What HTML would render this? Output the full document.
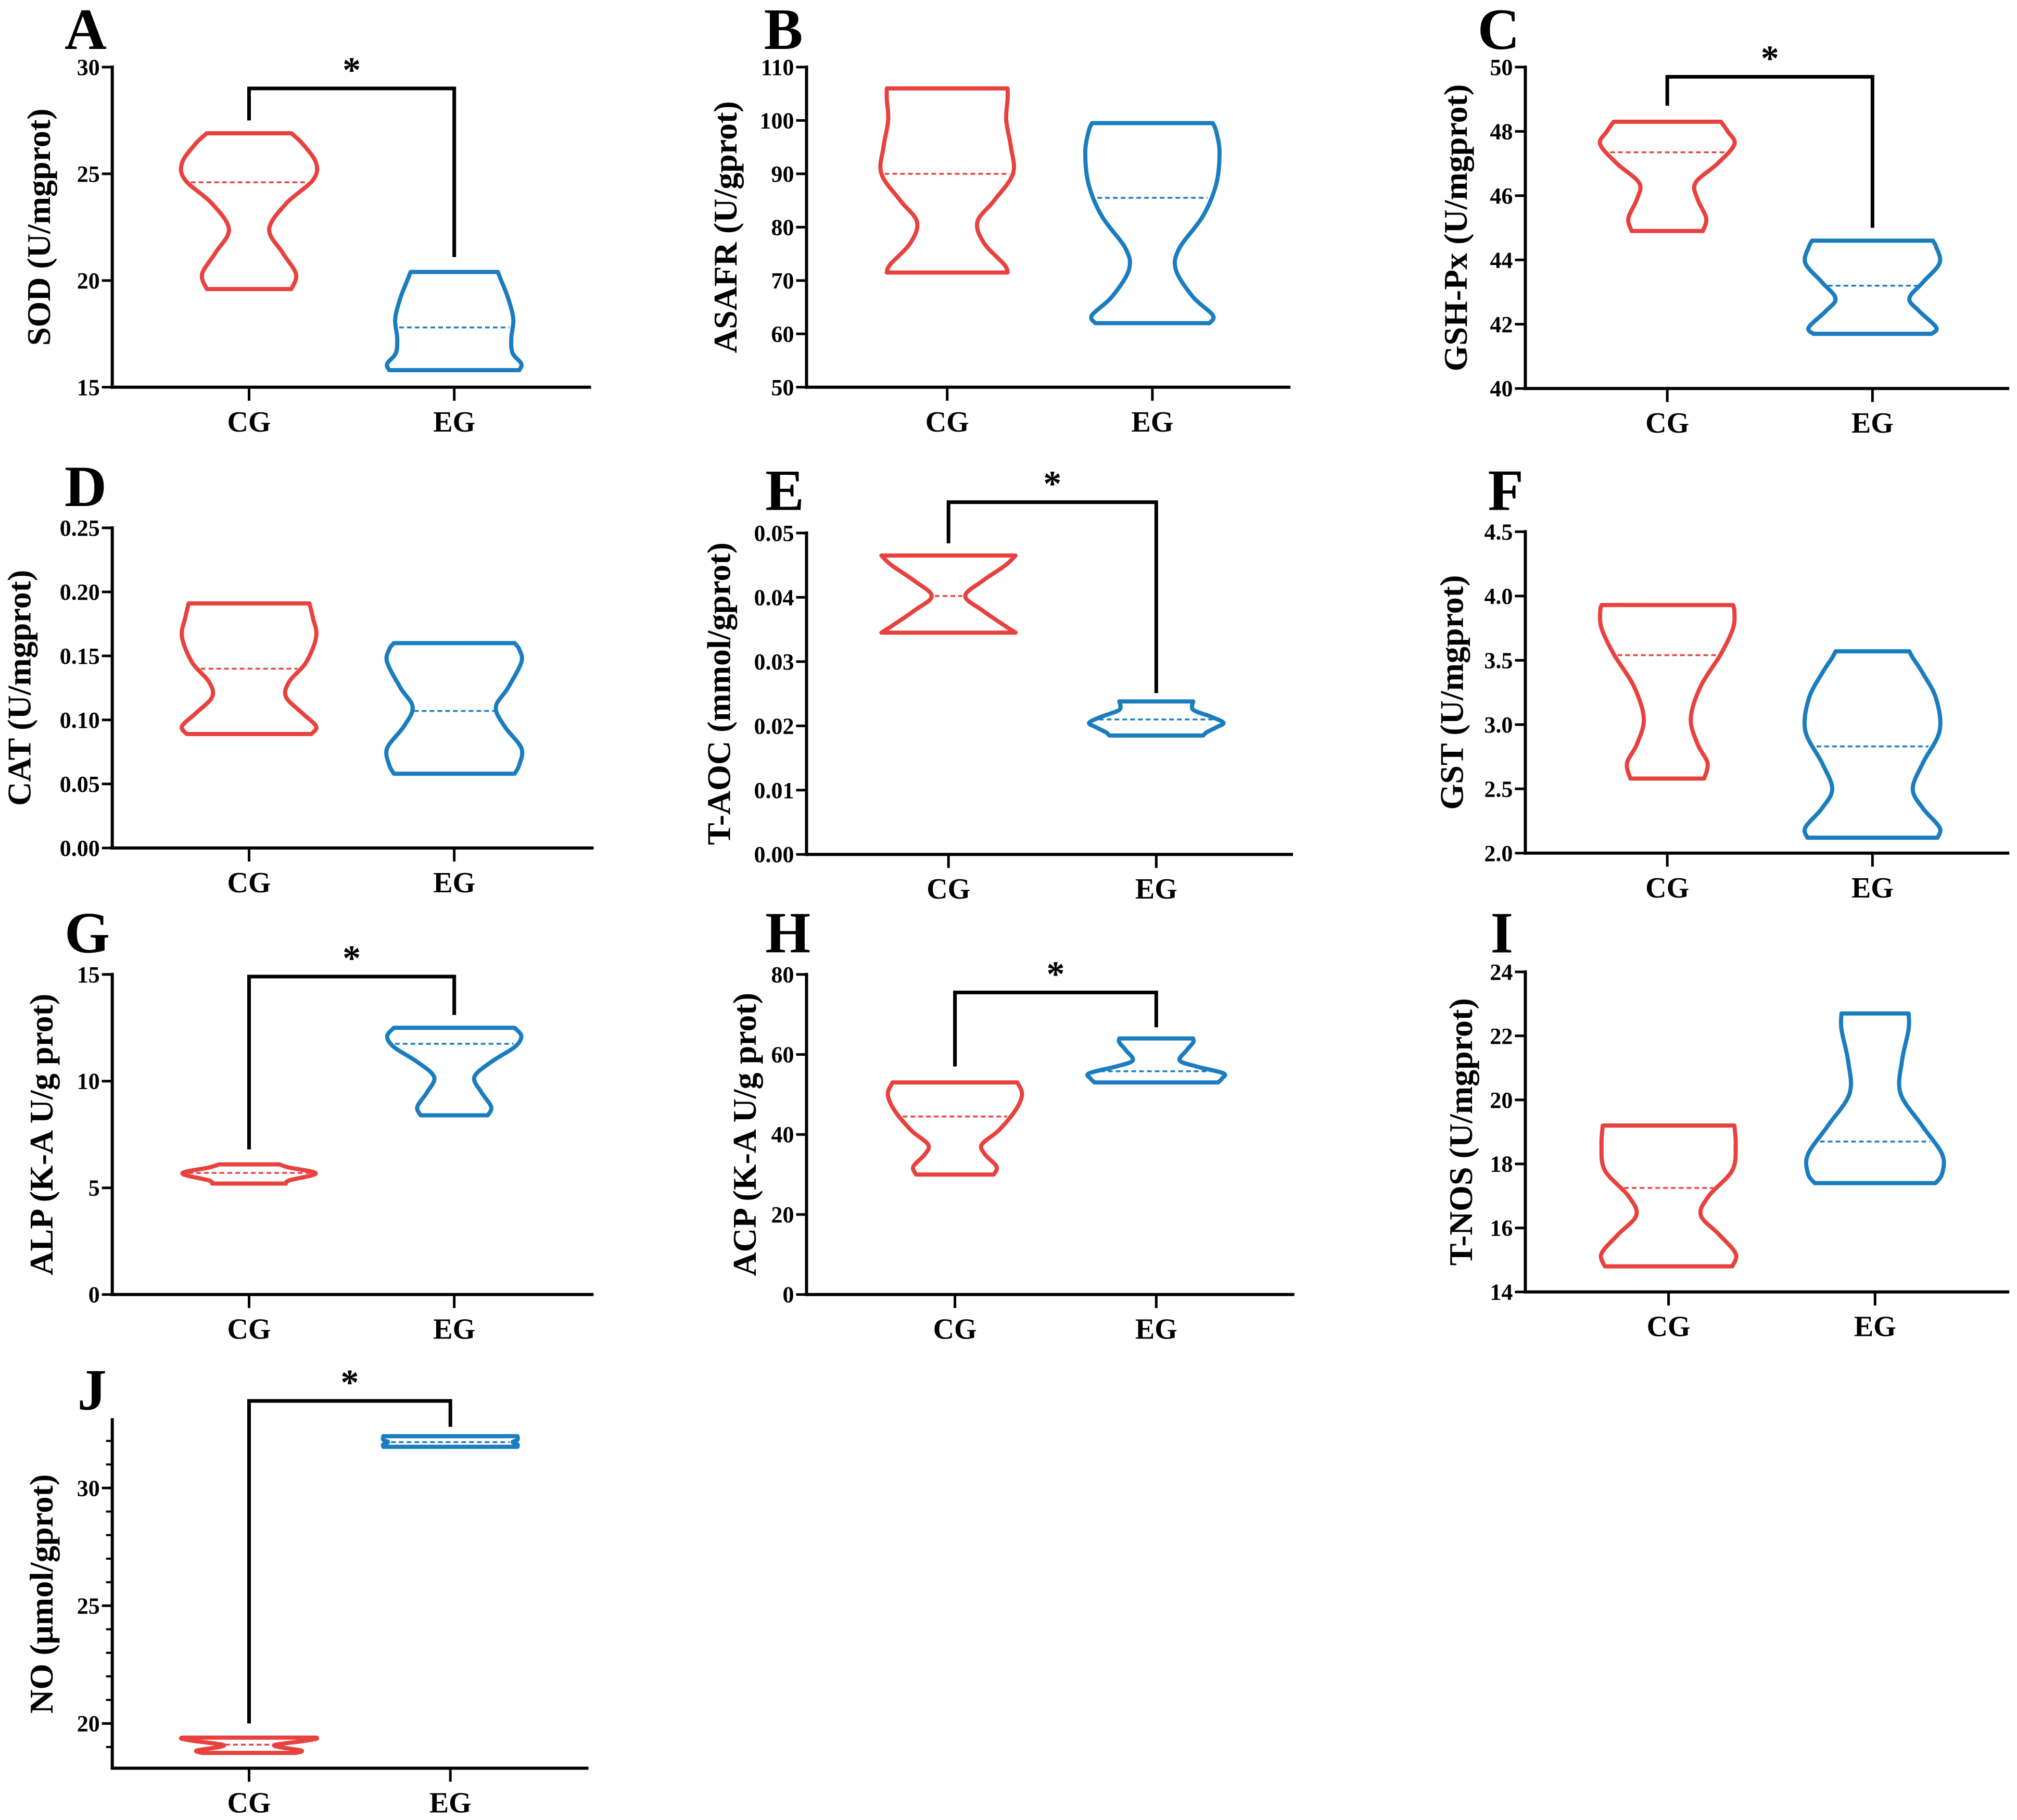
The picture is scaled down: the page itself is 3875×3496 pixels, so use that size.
<!DOCTYPE html>
<html><head><meta charset="utf-8">
<style>
html,body{margin:0;padding:0;background:#fff;}
svg{display:block;}
text{font-family:"Liberation Serif",serif;font-weight:bold;fill:#000;}
</style></head>
<body>
<svg id="fig" xmlns="http://www.w3.org/2000/svg" width="3875" height="3496" viewBox="0 0 3875 3496"></svg>
<script>
// ---- data (value, relative half-width) for each violin ----
const groups = ["CG", "EG"];
const A_CG = [[19.6,0.63],[20.3,0.7],[21.3,0.5],[22.4,0.3],[23.6,0.55],[24.7,0.95],[25.5,1.0],[26.4,0.8],[26.9,0.63]];
const A_EG = [[15.8,0.97],[16.1,1.0],[16.6,0.87],[17.3,0.85],[18.2,0.88],[19.2,0.8],[20.0,0.7],[20.4,0.65]];
const B_CG = [[71.5,0.9],[73,0.85],[77,0.55],[81,0.45],[85,0.7],[90,0.98],[95,0.95],[100,0.88],[104,0.9],[106,0.9]];
const B_EG = [[62,0.85],[63.5,0.9],[67,0.6],[72,0.35],[76,0.4],[82,0.75],[88,0.95],[94,1.0],[98,0.95],[99.5,0.9]];
const C_CG = [[44.9,0.53],[45.3,0.58],[45.9,0.45],[46.4,0.42],[47.0,0.75],[47.6,1.0],[48.0,0.9],[48.3,0.8]];
const C_EG = [[41.7,0.88],[41.9,0.95],[42.4,0.7],[42.8,0.55],[43.3,0.75],[43.9,1.0],[44.4,0.95],[44.6,0.9]];
const D_CG = [[0.089,0.93],[0.095,1.0],[0.105,0.8],[0.118,0.55],[0.13,0.6],[0.145,0.85],[0.165,1.0],[0.18,0.95],[0.191,0.9]];
const D_EG = [[0.058,0.9],[0.065,0.97],[0.078,1.0],[0.095,0.75],[0.11,0.62],[0.125,0.8],[0.145,1.0],[0.155,0.97],[0.16,0.9]];
const E_CG = [[0.0345,1.0],[0.0355,0.85],[0.038,0.5],[0.0402,0.25],[0.0425,0.5],[0.045,0.85],[0.0465,1.0]];
const E_EG = [[0.0185,0.7],[0.019,0.75],[0.0198,0.9],[0.0205,1.0],[0.0215,0.8],[0.0225,0.55],[0.0238,0.55]];
const F_CG = [[2.58,0.55],[2.7,0.6],[2.85,0.45],[3.05,0.35],[3.3,0.5],[3.55,0.8],[3.75,0.98],[3.88,1.0],[3.93,0.98]];
const F_EG = [[2.12,0.97],[2.2,1.0],[2.35,0.75],[2.5,0.6],[2.7,0.75],[2.95,1.0],[3.2,0.95],[3.4,0.75],[3.52,0.6],[3.57,0.55]];
const G_CG = [[5.2,0.55],[5.35,0.6],[5.6,0.95],[5.75,0.95],[5.95,0.6],[6.1,0.45]];
const G_EG = [[8.4,0.5],[8.8,0.55],[9.5,0.4],[10.2,0.3],[10.9,0.55],[11.6,0.9],[12.1,1.0],[12.5,0.9]];
const H_CG = [[30,0.58],[32,0.62],[35,0.45],[37.5,0.4],[41,0.65],[46,0.9],[50,1.0],[53,0.93]];
const H_EG = [[53,0.92],[54,0.98],[55.3,1.0],[57,0.6],[58.5,0.35],[61,0.45],[63,0.55],[64,0.55]];
const I_CG = [[14.8,0.95],[15.2,1.0],[15.8,0.75],[16.4,0.48],[17.0,0.6],[17.8,0.95],[18.6,1.0],[19.2,0.98]];
const I_EG = [[17.4,0.9],[17.7,1.0],[18.3,1.0],[19.2,0.7],[20.2,0.38],[21.2,0.4],[22.2,0.5],[22.7,0.5]];
const J_CG = [[18.75,0.7],[18.85,0.78],[19.0,0.45],[19.1,0.4],[19.25,0.8],[19.35,1.0],[19.4,1.0]];
const J_EG = [[31.75,1.0],[31.85,1.0],[31.95,0.93],[32.05,1.0],[32.2,1.0]];
const medians = {A:[24.6,17.8],B:[90,85.5],C:[47.35,43.2],D:[0.14,0.107],E:[0.0402,0.021],F:[3.54,2.83],G:[5.7,11.75],H:[44.5,55.8],I:[17.25,18.7],J:[19.1,31.95]};
// significance brackets: [top value, CG leg end, EG leg end]
const brackets = {A:[29,27.5,21.1],C:[49.7,48.8,45.0],E:[0.0548,0.0484,0.0251],G:[14.9,6.8,13.1],H:[75.5,57,66.8],J:[33.7,20.0,32.6]};
const tickA = [15,20,25,30];
const tickB = [50,60,70,80,90,100,110];
const tickC = [40,42,44,46,48,50];
const tickD = ["0.00","0.05","0.10","0.15","0.20","0.25"];
const tickE = ["0.00","0.01","0.02","0.03","0.04","0.05"];
const tickF = ["2.0","2.5","3.0","3.5","4.0","4.5"];
const tickG = [0,5,10,15];
const tickH = [0,20,40,60,80];
const tickI = [14,16,18,20,22,24];
const tickJ = [20,25,30];
const minorJ = [19,21,22,23,24,26,27,28,29,31,32];

// ---- layout (in reduced-scale px, scaled by S) ----
const S = 3875/1563;
const panels = [
 {id:"A",L:87,R:458,T:52,B:300,cg:193,eg:352,min:15,max:30,ticks:tickA,lab:"SOD (U/mgprot)",lx:30,letter:[50,38],v:[A_CG,A_EG]},
 {id:"B",L:625,R:1000,T:52,B:300,cg:734,eg:893,min:50,max:110,ticks:tickB,lab:"ASAFR (U/gprot)",lx:562,letter:[592,38],v:[B_CG,B_EG]},
 {id:"C",L:1182,R:1557,T:52,B:301,cg:1292,eg:1451,min:40,max:50,ticks:tickC,lab:"GSH-Px (U/mgprot)",lx:1128,letter:[1145,38],v:[C_CG,C_EG]},
 {id:"D",L:87,R:460,T:409,B:657,cg:193,eg:352,min:0,max:0.25,ticks:tickD,lab:"CAT (U/mgprot)",lx:15,letter:[50,392],v:[D_CG,D_EG]},
 {id:"E",L:625,R:1002,T:413,B:662,cg:735,eg:896,min:0,max:0.05,ticks:tickE,lab:"T-AOC (mmol/gprot)",lx:557,letter:[593,395],v:[E_CG,E_EG]},
 {id:"F",L:1182,R:1557,T:412,B:661,cg:1292,eg:1451,min:2,max:4.5,ticks:tickF,lab:"GST (U/mgprot)",lx:1125,letter:[1153,395],v:[F_CG,F_EG]},
 {id:"G",L:87,R:460,T:755,B:1003,cg:193,eg:352,min:0,max:15,ticks:tickG,lab:"ALP (K-A U/g prot)",lx:32,letter:[50,738],v:[G_CG,G_EG]},
 {id:"H",L:625,R:1003,T:755,B:1003,cg:740,eg:896,min:0,max:80,ticks:tickH,lab:"ACP (K-A U/g prot)",lx:577,letter:[593,738],v:[H_CG,H_EG]},
 {id:"I",L:1182,R:1557,T:753,B:1001,cg:1293,eg:1453,min:14,max:24,ticks:tickI,lab:"T-NOS (U/mgprot)",lx:1132,letter:[1155,738],v:[I_CG,I_EG]},
 {id:"J",L:87,R:456,T:1100,B:1370,cg:193,eg:349,min:18.1,max:32.9,ticks:tickJ,minor:minorJ,lab:"NO (μmol/gprot)",lx:32,letter:[60,1092],v:[J_CG,J_EG]}
];
const colors = ["#e8423f","#1a7dbf"];
const NS = "http://www.w3.org/2000/svg";
const svg = document.getElementById("fig");
function mk(tag, attrs, parent){const e=document.createElementNS(NS,tag);for(const k in attrs)e.setAttribute(k,attrs[k]);(parent||svg).appendChild(e);return e;}
function smooth(pts){
  let d="";
  for(let i=0;i<pts.length-1;i++){
    const p0=pts[Math.max(0,i-1)],p1=pts[i],p2=pts[i+1],p3=pts[Math.min(pts.length-1,i+2)];
    const c1=[p1[0]+(p2[0]-p0[0])/6,p1[1]+(p2[1]-p0[1])/6];
    const c2=[p2[0]-(p3[0]-p1[0])/6,p2[1]-(p3[1]-p1[1])/6];
    d+=` C${c1[0].toFixed(1)},${c1[1].toFixed(1)} ${c2[0].toFixed(1)},${c2[1].toFixed(1)} ${p2[0].toFixed(1)},${p2[1].toFixed(1)}`;
  }
  return d;
}
function hwAt(prof,v){
  for(let i=0;i<prof.length-1;i++){if(v>=prof[i][0]&&v<=prof[i+1][0]){const t=(v-prof[i][0])/(prof[i+1][0]-prof[i][0]);return prof[i][1]+t*(prof[i+1][1]-prof[i][1]);}}
  return prof[prof.length-1][1];
}
const MAXHW = 52*S;
panels.forEach(p=>{
  const g = mk("g",{});
  
  
  const L=p.L*S,R=p.R*S,T=p.T*S,B=p.B*S;
  const y = v => B - (v-p.min)/(p.max-p.min)*(B-T);
  const xs = [p.cg*S,p.eg*S];
  const lt = mk("text",{x:p.letter[0]*S,y:p.letter[1]*S,"font-size":112},g); lt.textContent=p.id;
  
  
  const ya = mk("line",{x1:L,y1:T-3,x2:L,y2:B+3,stroke:"#000","stroke-width":6},g);
  
  
  const xa = mk("line",{x1:L-3,y1:B,x2:R,y2:B,stroke:"#000","stroke-width":6},g);
  
  
  p.ticks.forEach(t=>{
    const v=parseFloat(t), yy=y(v);
    const tk = mk("line",{x1:L-20,y1:yy,x2:L,y2:yy,stroke:"#000","stroke-width":5},g);
    
    
    const tl = mk("text",{x:L-24,y:yy+15,"font-size":44,"text-anchor":"end"},g); tl.textContent=String(t);
    
    
  });
  (p.minor||[]).forEach(t=>{
    const yy=y(t);
    const mt = mk("line",{x1:L-12,y1:yy,x2:L,y2:yy,stroke:"#000","stroke-width":4},g);
    
    
  });
  groups.forEach((gn,i)=>{
    const xt = mk("line",{x1:xs[i],y1:B,x2:xs[i],y2:B+26,stroke:"#000","stroke-width":5},g);
    
    
    const gl = mk("text",{x:xs[i],y:B+85,"font-size":56,"text-anchor":"middle"},g); gl.textContent=gn;
    
    
  });
  const cy=(T+B)/2, cx=p.lx*S;
  const yl = mk("text",{x:cx,y:cy,"font-size":64,"text-anchor":"middle","dominant-baseline":"central",transform:`rotate(-90 ${cx} ${cy})`},g);
  yl.textContent=p.lab;
  
  
  p.v.forEach((prof,i)=>{
    const cxv=xs[i];
    const right=prof.map(q=>[cxv+q[1]*MAXHW,y(q[0])]);
    const left=prof.slice().reverse().map(q=>[cxv-q[1]*MAXHW,y(q[0])]);
    let d=`M${left[left.length-1][0]},${left[left.length-1][1]} L${right[0][0]},${right[0][1]}`+smooth(right)+` L${left[0][0]},${left[0][1]}`+smooth(left)+" Z";
    const vp = mk("path",{d:d,fill:"none",stroke:colors[i],"stroke-width":8,"stroke-linejoin":"round"},g);
    
    
    const m=medians[p.id][i], hw=hwAt(prof,m)*MAXHW-6;
    const ml = mk("line",{x1:cxv-hw,y1:y(m),x2:cxv+hw,y2:y(m),stroke:colors[i],"stroke-width":3.5,"stroke-dasharray":"9 6"},g);
    
    
  });
  const b=brackets[p.id];
  if(b){
    const bl = mk("path",{d:`M${xs[0]},${y(b[1])} L${xs[0]},${y(b[0])} L${xs[1]},${y(b[0])} L${xs[1]},${y(b[2])}`,fill:"none",stroke:"#000","stroke-width":7},g);
    
    
    const st = mk("text",{x:(xs[0]+xs[1])/2,y:y(b[0])-12,"font-size":70,"text-anchor":"middle"},g); st.textContent="*";
    
    
  }
});
</script>
</body></html>
